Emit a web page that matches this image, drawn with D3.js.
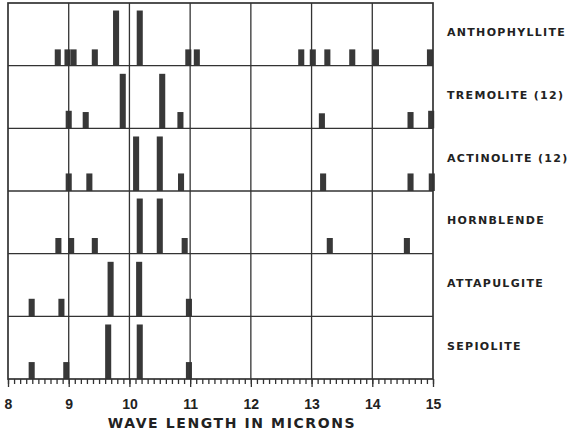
<!DOCTYPE html>
<meta charset="utf-8">
<style>
* { margin: 0; padding: 0; }
body { background: #fff; }
svg { display: block; font-family: "DejaVu Sans", sans-serif; }
.frame line, .frame rect { stroke: #333; fill: none; }
.peak { fill: #383838; }
.axis path { display: none; }
.axis line { stroke: #333; stroke-width: 1.3; }
.axis text { fill: #222; font-weight: bold; font-size: 14px; }
.label { fill: #222; font-weight: bold; font-size: 11px; letter-spacing: 1.3px; }
.title { fill: #222; font-weight: bold; font-size: 14px; letter-spacing: 1.6px; }
</style>
<body>
<script src="https://cdn.jsdelivr.net/npm/d3@7"></script>
<script>

// minerals, top to bottom
var minerals = ["ANTHOPHYLLITE", "TREMOLITE (12)", "ACTINOLITE (12)", "HORNBLENDE", "ATTAPULGITE", "SEPIOLITE"];

// band positions (microns) and relative strength (0..1) per mineral
var anthophyllite = [[8.82, 0.26], [8.98, 0.26], [9.08, 0.26], [9.43, 0.26], [9.78, 0.88], [10.17, 0.88],
                     [10.97, 0.26], [11.11, 0.26], [12.83, 0.26], [13.02, 0.26], [13.26, 0.26], [13.67, 0.26],
                     [14.06, 0.26], [14.95, 0.26]];
var tremolite = [[9.0, 0.28], [9.28, 0.26], [9.89, 0.87], [10.54, 0.87], [10.84, 0.26], [13.17, 0.24],
                 [14.63, 0.26], [14.97, 0.28]];
var actinolite = [[9.0, 0.28], [9.34, 0.28], [10.11, 0.87], [10.5, 0.87], [10.85, 0.28], [13.19, 0.28],
                  [14.63, 0.28], [14.98, 0.28]];
var hornblende = [[8.83, 0.25], [9.04, 0.25], [9.43, 0.25], [10.17, 0.88], [10.5, 0.88], [10.91, 0.25],
                  [13.3, 0.25], [14.57, 0.25]];
var attapulgite = [[8.39, 0.28], [8.88, 0.28], [9.69, 0.87], [10.16, 0.87], [10.98, 0.28]];
var sepiolite = [[8.39, 0.27], [8.96, 0.27], [9.65, 0.87], [10.17, 0.87], [10.98, 0.27]];

var peaks = [anthophyllite, tremolite, actinolite, hornblende, attapulgite, sepiolite];

var majorTicks = [8, 9, 10, 11, 12, 13, 14, 15];
var axisTitle = "WAVE LENGTH IN MICRONS";

var width = 574,
    height = 435,
    plotLeft = 8,
    plotRight = 433,
    plotTop = 3,
    plotBottom = 379,
    barWidth = 0.1;

var svg = d3.select("body").append("svg")
    .attr("width", width)
    .attr("height", height);

var x = d3.scaleLinear().domain([8, 15]).range([plotLeft, plotRight]);
var row = d3.scaleBand().domain(minerals).range([plotTop, plotBottom]);
var y = d3.scaleLinear().domain([0, 1]).range([row.bandwidth(), 0]);

// bars
minerals.forEach(function(m, i) {
	var g = svg.append("g").attr("transform", "translate(0," + row(m) + ")");

	g.selectAll("rect")
	    .data(peaks[i])
	    .enter().append("rect")
	    .attr("class", "peak")
	    .attr("x", function(d) { return x(d[0] - barWidth / 2); })
	    .attr("width", function(d) { return x(barWidth) - x(0); })
	    .attr("y", function(d) { return y(d[1]); })
	    .attr("height", function(d) { return y(0) - y(d[1]); });

	svg.append("text")
	    .attr("class", "label")
	    .attr("x", 447)
	    .attr("y", row(m) + row.bandwidth() / 2 - 2)
	    .attr("dy", "0.35em")
	    .text(m);
});

// grid
var frame = svg.append("g").attr("class", "frame");

frame.selectAll("line.v")
    .data(majorTicks.slice(1, -1))
    .enter().append("line")
    .attr("x1", function(d) { return x(d); })
    .attr("x2", function(d) { return x(d); })
    .attr("y1", plotTop)
    .attr("y2", plotBottom)
    .attr("stroke-width", 1.3);

frame.selectAll("line.h")
    .data(minerals.slice(1))
    .enter().append("line")
    .attr("x1", plotLeft)
    .attr("x2", plotRight)
    .attr("y1", function(d) { return row(d); })
    .attr("y2", function(d) { return row(d); })
    .attr("stroke-width", 1.3);

frame.append("rect")
    .attr("x", plotLeft)
    .attr("y", plotTop)
    .attr("width", plotRight - plotLeft)
    .attr("height", plotBottom - plotTop)
    .attr("stroke-width", 1.7);

// axis: minor ticks every 0.1, major at whole microns
svg.append("g")
    .attr("class", "axis")
    .attr("transform", "translate(0," + plotBottom + ")")
    .call(d3.axisBottom(x).tickValues(d3.range(80, 151).map(function(v) { return v / 10; }))
        .tickSize(5).tickFormat(""));

svg.append("g")
    .attr("class", "axis")
    .attr("transform", "translate(0," + plotBottom + ")")
    .call(d3.axisBottom(x).tickValues(majorTicks).tickSize(8).tickPadding(12).tickFormat(d3.format("d")));

svg.append("text")
    .attr("class", "title")
    .attr("x", 232)
    .attr("y", 428)
    .attr("text-anchor", "middle")
    .text(axisTitle);

</script>
